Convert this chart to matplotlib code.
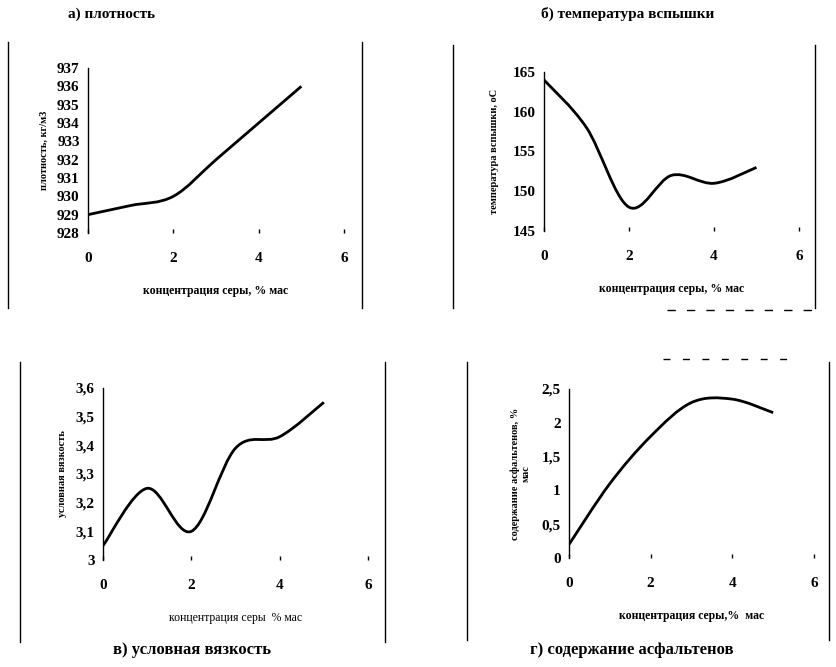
import matplotlib.pyplot as plt
import numpy as np
from matplotlib.path import Path
from matplotlib.patches import PathPatch
from matplotlib.lines import Line2D

plt.rcParams['font.family'] = ['Liberation Serif', 'DejaVu Serif']
plt.rcParams['font.weight'] = 'bold'
plt.rcParams['axes.labelweight'] = 'bold'

W, H = 836, 667

sulfur = [0, 1, 2, 3, 4, 5]
density = [929, 929.5, 930, 932, 934, 936]
flash_point = [164, 158, 148, 152, 151, 153]
viscosity = [3.05, 3.25, 3.1, 3.39, 3.43, 3.55]
asphaltenes = [0.2, 1.1, 1.8, 2.3, 2.35, 2.15]

xticks = [0, 2, 4, 6]
density_ticks = list(range(928, 938))
flash_ticks = [145, 150, 155, 160, 165]
visc_ticks = [3.0, 3.1, 3.2, 3.3, 3.4, 3.5, 3.6]
visc_labels = ['3', '3,1', '3,2', '3,3', '3,4', '3,5', '3,6']
asph_ticks = [0, 0.5, 1, 1.5, 2, 2.5]
asph_labels = ['0', '0,5', '1', '1,5', '2', '2,5']


def smooth_path(x, y):
    # excel-style smoothed line: bezier segments through the points
    pts = np.column_stack([x, y]).astype(float)
    p = np.vstack([pts[0], pts, pts[-1]])
    verts = [pts[0]]
    codes = [Path.MOVETO]
    for i in range(1, len(p) - 2):
        c1 = p[i] + (p[i + 1] - p[i - 1]) / 6
        c2 = p[i + 1] - (p[i + 2] - p[i]) / 6
        verts += [c1, c2, p[i + 1]]
        codes += [Path.CURVE4] * 3
    return Path(verts, codes)


def make_ax(fig, x0, x6, ytop, ybot):
    ax = fig.add_axes([x0 / W, 1 - ybot / H, (x6 - x0) / W, (ybot - ytop) / H])
    for s in ['top', 'right', 'bottom']:
        ax.spines[s].set_visible(False)
    ax.spines['left'].set_linewidth(1.0)
    ax.patch.set_alpha(0)
    ax.set_xlim(0, 6)
    ax.set_xticks(xticks)
    ax.tick_params(axis='x', length=3, width=1, direction='in', pad=14, labelsize=11)
    ax.tick_params(axis='y', length=0, pad=6, labelsize=11)
    return ax


def fig_line(fig, x1, y1, x2, y2, **kw):
    fig.add_artist(Line2D([x1 / W, x2 / W], [1 - y1 / H, 1 - y2 / H], color='black', lw=1, **kw))


fig = plt.figure(figsize=(W / 100, H / 100), dpi=100)

# а) плотность
ax = make_ax(fig, 88, 344, 68, 233)
ax.set_ylim(928, 937)
ax.set_yticks(density_ticks)
ax.add_patch(PathPatch(smooth_path(sulfur, density), fill=False, lw=2, color='black'))
ax.set_xlabel('концентрация серы, % мас', fontsize=8.5, labelpad=14)
ax.set_ylabel('плотность, кг/м3', fontsize=7.5, labelpad=6)
fig.text(112 / W, 1 - 14 / H, 'а) плотность', ha='center', va='center', fontsize=11)

# б) температура вспышки
ax = make_ax(fig, 544, 799, 72, 231)
ax.set_ylim(145, 165)
ax.set_yticks(flash_ticks)
ax.add_patch(PathPatch(smooth_path(sulfur, flash_point), fill=False, lw=2, color='black'))
ax.set_xlabel('концентрация серы, % мас', fontsize=8.5, labelpad=14)
ax.set_ylabel('температура вспышки, оС', fontsize=7.5, labelpad=10)
fig.text(628 / W, 1 - 14 / H, 'б) температура вспышки', ha='center', va='center', fontsize=11)

# в) условная вязкость
ax = make_ax(fig, 103, 368, 388, 560)
ax.set_ylim(3.0, 3.6)
ax.set_yticks(visc_ticks, visc_labels)
ax.add_patch(PathPatch(smooth_path(sulfur, viscosity), fill=False, lw=2, color='black'))
ax.set_xlabel('концентрация серы  % мас', fontsize=8.5, fontweight='normal', labelpad=14)
ax.set_ylabel('условная вязкость', fontsize=7.5, labelpad=6)
fig.text(192 / W, 1 - 650 / H, 'в) условная вязкость', ha='center', va='center', fontsize=12)

# г) содержание асфальтенов
ax = make_ax(fig, 569, 814, 389, 558)
ax.set_ylim(0, 2.5)
ax.set_yticks(asph_ticks, asph_labels)
ax.add_patch(PathPatch(smooth_path(sulfur, asphaltenes), fill=False, lw=2, color='black'))
ax.set_xlabel('концентрация серы,%  мас', fontsize=8.5, labelpad=14)
ax.set_ylabel('содержание асфальтенов, %\nмас', fontsize=7.5, labelpad=8)
fig.text(632 / W, 1 - 650 / H, 'г) содержание асфальтенов', ha='center', va='center', fontsize=12)

# chart area borders left over from the scan
fig_line(fig, 8, 42, 8, 308)
fig_line(fig, 362, 42, 362, 308)
fig_line(fig, 453, 45, 453, 308)
fig_line(fig, 815, 45, 815, 308)
fig_line(fig, 667, 310, 812, 310, ls=(0, (6, 8)))
fig_line(fig, 20, 362, 20, 642)
fig_line(fig, 385, 362, 385, 642)
fig_line(fig, 467, 362, 467, 640)
fig_line(fig, 829, 362, 829, 640)
fig_line(fig, 663, 359, 795, 359, ls=(0, (5, 9)))

fig.savefig('out.png', dpi=100)
